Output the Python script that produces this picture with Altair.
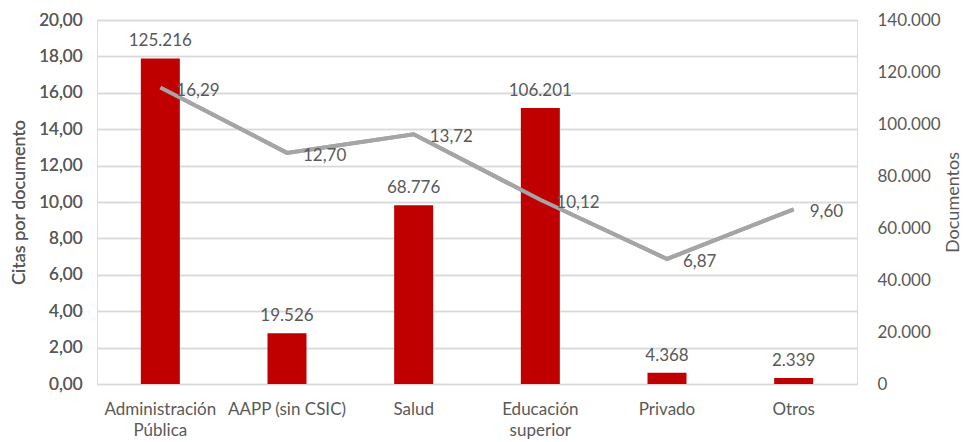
import altair as alt
import pandas as pd

categories = ["Administración\nPública", "AAPP (sin CSIC)", "Salud", "Educación\nsuperior", "Privado", "Otros"]
documentos = [125216, 19526, 68776, 106201, 4368, 2339]
citas = [16.29, 12.70, 13.72, 10.12, 6.87, 9.60]

df = pd.DataFrame({
    "cat": categories,
    "docs": documentos,
    "citas": citas,
    "docs_lbl": [f"{v:,}".replace(",", ".") for v in documentos],
    "citas_lbl": [f"{v:.2f}".replace(".", ",") for v in citas],
})

FONT = "Lato"
TXT = "#595959"
RED = "#C00000"
GRAY = "#A5A5A5"

x_axis = alt.Axis(labelAngle=0, ticks=False, domain=False, grid=False, labelPadding=17,
                  labelExpr="split(datum.label, '\\n')", labelFontSize=17,
                  labelColor=TXT, labelFont=FONT, labelLineHeight=21)
x_scale = alt.Scale(paddingInner=0, paddingOuter=0)
x = alt.X("cat:N", sort=categories, title=None, scale=x_scale, axis=x_axis)

right_axis = alt.Axis(orient="right", values=list(range(0, 140001, 20000)),
                      format=",d", labelExpr="replace(datum.label, ',', '.')",
                      grid=False, ticks=False, domain=False,
                      labelPadding=20,
                      labelOverlap=False, titlePadding=22, titleAngle=270,
                      labelFontSize=17, titleFontSize=18, labelColor=TXT,
                      titleColor=TXT, labelFont=FONT, titleFont=FONT,
                      titleFontWeight="normal")

left_axis = alt.Axis(orient="left", values=list(range(0, 21, 2)), format=".2f",
                     labelExpr="replace(datum.label, '.', ',')",
                     labelOverlap=False,
                     grid=True, gridColor="#D9D9D9", gridWidth=1.3, gridOpacity=1,
                     ticks=False, domain=False, labelPadding=15, titlePadding=10,
                     labelFontSize=17, titleFontSize=18, labelColor=TXT,
                     titleColor=TXT, labelFont=FONT, titleFont=FONT,
                     titleFontWeight="normal")

base = alt.Chart(df)

bars = base.mark_bar(color=RED, size=39).encode(
    x=x,
    y=alt.Y("docs:Q", title="Documentos",
            scale=alt.Scale(domain=[0, 140000], nice=False), axis=right_axis),
)

bar_text = base.mark_text(baseline="bottom", dy=-8, fontSize=17, font=FONT, color=TXT).encode(
    x=x,
    y=alt.Y("docs:Q", scale=alt.Scale(domain=[0, 140000], nice=False), axis=None),
    text="docs_lbl:N",
)

line = base.mark_line(color=GRAY, strokeWidth=4).encode(
    x=x,
    y=alt.Y("citas:Q", title="Citas por documento",
            scale=alt.Scale(domain=[0, 20], nice=False), axis=left_axis),
)

line_text = base.mark_text(align="left", baseline="middle", dx=16, dy=3, fontSize=17,
                           font=FONT, color=TXT).encode(
    x=x,
    y=alt.Y("citas:Q", scale=alt.Scale(domain=[0, 20], nice=False), axis=None),
    text="citas_lbl:N",
)

chart = alt.layer(line, bars, line, bar_text, line_text).resolve_scale(y="independent").properties(
    width=760, height=364,
    autosize=alt.AutoSizeParams(type="none"),
    padding={"left": 89, "top": 12, "right": 106, "bottom": 60},
).configure_view(stroke=None).configure_axis(domain=False).configure_axisX(
    grid=False
).configure(background="white")

chart.save("out.html", embed_options={"renderer": "svg", "actions": False})
